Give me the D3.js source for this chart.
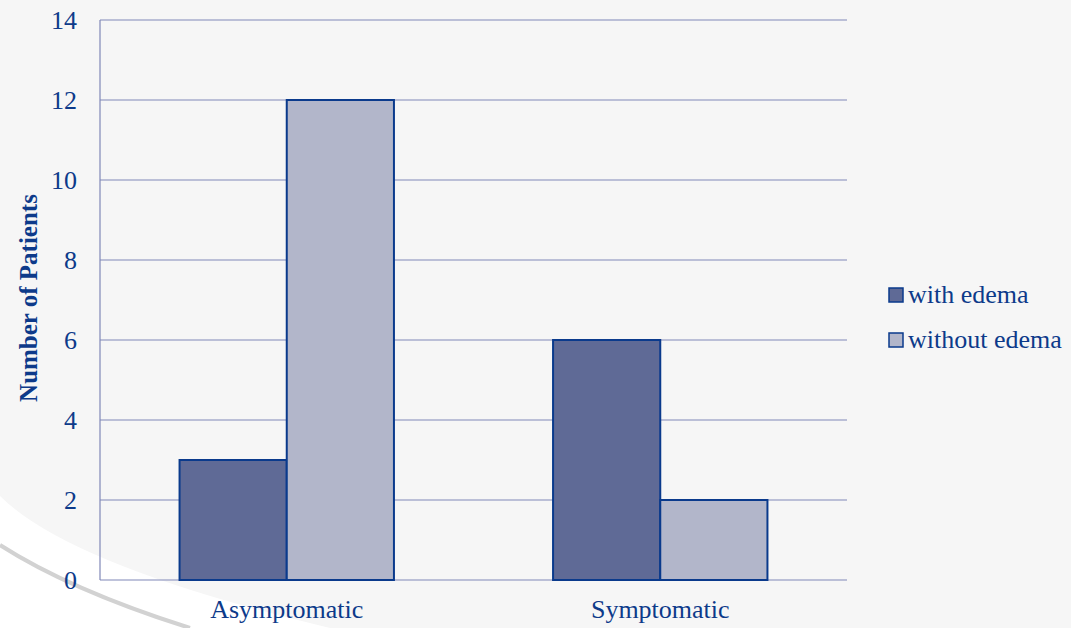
<!DOCTYPE html>
<html>
<head>
<meta charset="utf-8">
<script src="https://cdn.jsdelivr.net/npm/d3@7"></script>
<style>
	body { margin: 0; background: #f6f6f6; }
</style>
</head>
<body>
<div id="chart"></div>
<script>
// patients with / without edema, grouped bars

var categories = ['Asymptomatic', 'Symptomatic'];
var series = ['with edema', 'without edema'];
var with_edema = [3, 6];
var without_edema = [12, 2];
var y_ticks = [0, 2, 4, 6, 8, 10, 12, 14];

var W = 1071, H = 628;
var pad = [20, 224, 48, 100]; // top right bottom left
var chart_w = W - pad[1] - pad[3];
var chart_h = H - pad[0] - pad[2];
var colors = ['#5f6a96', '#b2b6ca'];
var ink = '#0d3a8a';
var serif = '"Liberation Serif", "Times New Roman", serif';

var svg = d3.select('#chart').append('svg')
	.attr('width', W).attr('height', H)
	.attr('font-family', serif);

// background swoosh
svg.append('rect').attr('width', W).attr('height', H).attr('fill', '#f6f6f6');
svg.append('path')
	.attr('d', 'M0,496 Q70,566 330,628 L0,628 Z')
	.attr('fill', '#ffffff');
svg.append('path')
	.attr('d', 'M0,545 Q70,590 190,628')
	.attr('fill', 'none').attr('stroke', '#d2d2d2').attr('stroke-width', 4);

var g = svg.append('g').attr('transform', 'translate(' + pad[3] + ',' + pad[0] + ')');

var x0 = d3.scaleBand().domain(categories).range([0, chart_w]).paddingInner(0).paddingOuter(0);
var inner = 0.574;
var x1 = d3.scaleBand().domain(series)
	.range([x0.bandwidth() * (1 - inner) / 2, x0.bandwidth() * (1 + inner) / 2]);
var y = d3.scaleLinear().domain([0, 14]).range([chart_h, 0]);

// grid lines
g.selectAll('line.grid').data(y_ticks).enter().append('line')
	.attr('class', 'grid')
	.attr('x1', 0).attr('x2', chart_w)
	.attr('y1', function (d) {return y(d);}).attr('y2', function (d) {return y(d);})
	.attr('stroke', '#8088b8').attr('stroke-width', 1.2);

g.append('line')
	.attr('x1', 0).attr('x2', 0).attr('y1', 0).attr('y2', chart_h)
	.attr('stroke', '#8088b8').attr('stroke-width', 1.2);

// y axis
var y_axis = d3.axisLeft(y).tickValues(y_ticks).tickSize(0).tickPadding(23);
var ya = g.append('g').call(y_axis);
ya.attr('font-family', serif).attr('font-size', 26);
ya.select('.domain').remove();
ya.selectAll('text').attr('fill', ink);

// x axis
var x_axis = d3.axisBottom(x0).tickSize(0).tickPadding(20);
var xa = g.append('g').attr('transform', 'translate(0,' + chart_h + ')').call(x_axis);
xa.attr('font-family', serif).attr('font-size', 26);
xa.select('.domain').remove();
xa.selectAll('text').attr('fill', ink);

// bars
var rows = categories.map(function (c, i) {
	return [{cat: c, s: series[0], v: with_edema[i], k: 0}, {cat: c, s: series[1], v: without_edema[i], k: 1}];
});
var groups = g.selectAll('g.grp').data(rows).enter().append('g')
	.attr('class', 'grp')
	.attr('transform', function (d) {return 'translate(' + x0(d[0].cat) + ',0)';});
groups.selectAll('rect').data(function (d) {return d;}).enter().append('rect')
	.attr('x', function (d) {return x1(d.s);})
	.attr('y', function (d) {return y(d.v);})
	.attr('width', x1.bandwidth())
	.attr('height', function (d) {return chart_h - y(d.v);})
	.attr('fill', function (d) {return colors[d.k];})
	.attr('stroke', '#0a3a8c').attr('stroke-width', 2);

// y label
svg.append('text')
	.attr('transform', 'translate(37,' + (pad[0] + chart_h / 2 - 2) + ') rotate(-90)')
	.attr('text-anchor', 'middle')
	.attr('fill', ink)
	.attr('font-size', 25).attr('font-weight', 'bold')
	.text('Number of Patients');

// legend
var leg = svg.selectAll('g.leg').data(series).enter().append('g')
	.attr('class', 'leg')
	.attr('transform', function (d, i) {return 'translate(889,' + (288 + i * 45) + ')';});
leg.append('rect').attr('width', 14).attr('height', 14)
	.attr('fill', function (d, i) {return colors[i];})
	.attr('stroke', '#0a3a8c').attr('stroke-width', 1.5);
leg.append('text').attr('x', 19).attr('y', 15)
	.attr('fill', ink)
	.attr('font-size', 26)
	.text(function (d) {return d;});
</script>
</body>
</html>
